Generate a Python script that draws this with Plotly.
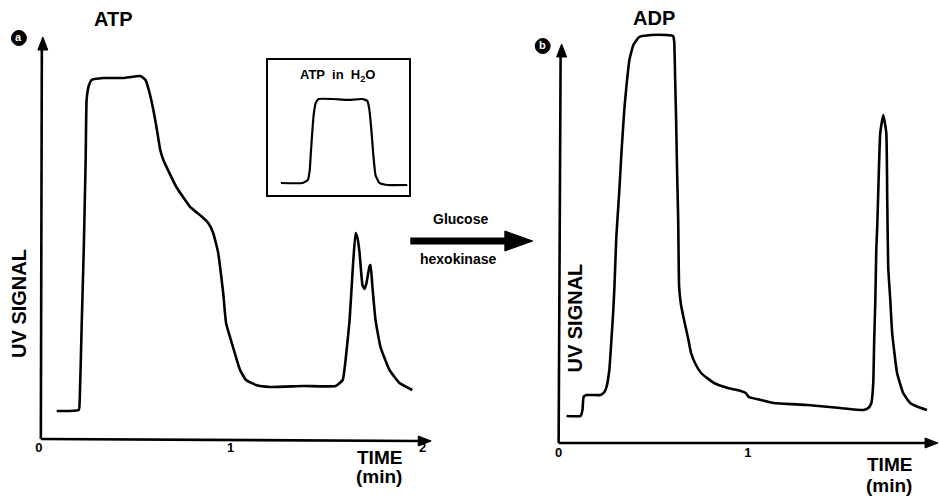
import plotly.graph_objects as go

W, H = 939, 496

# ---------------- data (time in min, UV signal in arbitrary units) ----------------
atp_time = [0.093, 0.208, 0.213, 0.223, 0.234, 0.244, 0.249, 0.260, 0.275, 0.337, 0.441, 0.530,
            0.556, 0.576, 0.597, 0.613, 0.633, 0.649, 0.717, 0.789, 0.846, 0.883, 0.909, 0.935,
            0.950, 0.961, 0.976, 1.012, 1.049, 1.080, 1.132, 1.205, 1.376, 1.547, 1.584, 1.599,
            1.620, 1.636, 1.651, 1.661, 1.672, 1.687, 1.698, 1.708, 1.724, 1.729, 1.739, 1.755,
            1.781, 1.828, 1.880, 1.947]
atp_signal = [6.75, 7.0, 9.5, 27.75, 47.0, 69.5, 84.5, 88.0, 89.5, 90.0, 90.0, 90.5,
              89.5, 86.5, 82.0, 77.75, 72.0, 69.5, 62.75, 57.75, 55.5, 53.75, 51.25, 46.25,
              40.75, 36.25, 28.75, 22.75, 17.0, 14.5, 13.25, 12.75, 13.0, 13.0, 14.5, 19.5,
              29.5, 42.0, 51.25, 50.0, 46.25, 38.25, 37.25, 38.75, 43.0, 43.25, 37.75, 29.5,
              22.75, 17.0, 13.75, 12.0]

adp_time = [0.042, 0.116, 0.126, 0.132, 0.147, 0.221, 0.242, 0.253, 0.268, 0.279, 0.289, 0.295,
            0.305, 0.321, 0.332, 0.347, 0.358, 0.374, 0.395, 0.426, 0.489, 0.568, 0.605, 0.611,
            0.616, 0.621, 0.626, 0.632, 0.637, 0.647, 0.663, 0.684, 0.700, 0.726, 0.753, 0.821,
            0.895, 0.963, 0.989, 1.005, 1.068, 1.137, 1.316, 1.489, 1.611, 1.637, 1.653, 1.663,
            1.668, 1.674, 1.679, 1.684, 1.689, 1.700, 1.716, 1.732, 1.737, 1.742, 1.753, 1.763,
            1.789, 1.821, 1.858, 1.900, 1.947]
adp_signal = [6.75, 6.75, 8.25, 11.5, 12.0, 12.0, 12.75, 14.0, 18.25, 25.75, 33.25, 39.0,
              51.5, 63.25, 72.5, 83.25, 89.0, 95.75, 99.5, 101.5, 102.0, 102.0, 101.75, 100.25,
              90.75, 80.75, 68.25, 55.75, 39.0, 34.5, 30.75, 26.25, 22.5, 19.5, 17.5, 15.0,
              13.75, 13.0, 12.5, 11.5, 10.75, 10.0, 9.5, 8.75, 8.25, 8.75, 10.0, 15.0,
              25.75, 35.75, 48.25, 54.0, 62.0, 77.5, 82.0, 77.5, 60.75, 44.0, 35.75, 27.5,
              17.5, 12.5, 10.0, 9.0, 8.25]

inset_time = [0.092, 0.246, 0.282, 0.296, 0.303, 0.310, 0.324, 0.338, 0.359, 0.458, 0.563, 0.669,
              0.704, 0.718, 0.732, 0.746, 0.761, 0.789, 0.845, 0.986]
inset_signal = [8.9, 8.9, 11.1, 18.5, 29.6, 40.7, 59.3, 68.1, 71.1, 71.1, 70.4, 71.1,
                69.6, 63.0, 48.1, 29.6, 14.8, 8.9, 7.4, 7.4]

atp_ticks = [0, 1, 2]
adp_ticks = [0, 1]


def PX(x):
    return x / W


def PY(y):
    return 1 - y / H


BOLD = dict(family="Liberation Sans, Arial, sans-serif", color="black", weight="bold")
LINE = dict(color="black", width=2.6)

fig = go.Figure()
fig.add_trace(go.Scatter(x=atp_time, y=atp_signal, mode="lines", line=dict(**LINE, shape="spline", smoothing=0.4),
                         xaxis="x", yaxis="y", hoverinfo="skip"))
fig.add_trace(go.Scatter(x=adp_time, y=adp_signal, mode="lines", line=dict(**LINE, shape="spline", smoothing=0.4),
                         xaxis="x2", yaxis="y2", hoverinfo="skip"))
fig.add_trace(go.Scatter(x=inset_time, y=inset_signal, mode="lines",
                         line=dict(color="black", width=2.2, shape="spline", smoothing=0.4),
                         xaxis="x3", yaxis="y3", hoverinfo="skip"))

hidden = dict(showgrid=False, zeroline=False, showline=False, showticklabels=False, ticks="")
xt = dict(showgrid=False, zeroline=False, showline=False, ticks="",
          tickfont=dict(size=13, **BOLD))

fig.update_layout(
    width=W, height=H, margin=dict(l=0, r=0, t=0, b=0),
    paper_bgcolor="white", plot_bgcolor="white", showlegend=False,
    xaxis=dict(domain=[PX(35), PX(428)], range=[0, 2.04], tickvals=atp_ticks, anchor="y", **xt),
    yaxis=dict(domain=[PY(438), PY(38)], range=[0, 100], anchor="x", **hidden),
    xaxis2=dict(domain=[PX(557), PX(937)], range=[0, 2.0], tickvals=adp_ticks, anchor="y2", **xt),
    yaxis2=dict(domain=[PY(443), PY(30)], range=[0, 103.25], anchor="x2", **hidden),
    xaxis3=dict(domain=[PX(265), PX(407)], range=[0, 1], anchor="y3", showgrid=False, zeroline=False,
                showline=True, mirror=True, linecolor="black", linewidth=2, showticklabels=False, ticks=""),
    yaxis3=dict(domain=[PY(195), PY(60)], range=[0, 100], anchor="x3", showgrid=False, zeroline=False,
                showline=True, mirror=True, linecolor="black", linewidth=2, showticklabels=False, ticks=""),
)

shapes = []


def seg(x0, y0, x1, y1, w=2.6):
    shapes.append(dict(type="line", xref="paper", yref="paper", x0=PX(x0), y0=PY(y0), x1=PX(x1), y1=PY(y1),
                       line=dict(color="black", width=w)))


def tri(pts):
    path = "M " + " L ".join(f"{PX(x)},{PY(y)}" for x, y in pts) + " Z"
    shapes.append(dict(type="path", xref="paper", yref="paper", path=path, fillcolor="black",
                       line=dict(color="black", width=1)))


# panel a axes
seg(37, 439, 38, 48)
tri([(39, 37), (34, 50), (44, 50)])
seg(37, 439, 418, 441)
tri([(429, 441), (416, 436), (416, 446)])
# panel b axes
seg(557, 443, 559, 55)
tri([(560, 44), (555, 57), (565, 57)])
seg(557, 443, 926, 443)
tri([(938, 443), (925, 438), (925, 448)])
# central arrow
seg(408, 241, 506, 241, w=7)
tri([(531, 241), (503, 231), (503, 251)])
# circled labels
for cx, cy in [(15, 38), (541, 46)]:
    shapes.append(dict(type="circle", xref="paper", yref="paper", x0=PX(cx - 7.5), x1=PX(cx + 7.5),
                       y0=PY(cy + 7.5), y1=PY(cy - 7.5), fillcolor="black", line=dict(color="black", width=1)))
fig.update_layout(shapes=shapes)


def txt(x, y, s, size, angle=0, color="black"):
    fig.add_annotation(x=PX(x), y=PY(y), xref="paper", yref="paper", text=s, showarrow=False,
                       textangle=angle, xanchor="center", yanchor="middle",
                       font=dict(size=size, family=BOLD["family"], weight="bold", color=color))


txt(15, 37, "a", 11, color="white")
txt(541, 45, "b", 11, color="white")
txt(110, 19, "ATP", 20)
txt(653, 18, "ADP", 20)
txt(15, 303, "UV SIGNAL", 20, angle=-90)
txt(573, 318, "UV SIGNAL", 20, angle=-90)
txt(377, 457, "TIME", 19)
txt(377, 476, "(min)", 19)
txt(889, 464, "TIME", 19)
txt(889, 485, "(min)", 19)
txt(335, 75, "ATP  in  H<sub>2</sub>O", 13)
txt(458, 219, "Glucose", 14)
txt(456, 259, "hexokinase", 14)

fig.write_html("out.html")
